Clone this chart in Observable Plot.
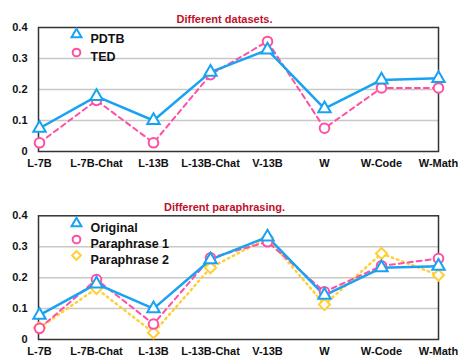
<!DOCTYPE html>
<html><head><meta charset="utf-8">
<script src="https://cdn.jsdelivr.net/npm/d3@7"></script>
<script src="https://cdn.jsdelivr.net/npm/@observablehq/plot@0.6"></script>
<style>body{margin:0;background:#fff} svg{display:block;overflow:visible}</style>
</head><body><div id="chart"></div>
<script>
const categories = ["L-7B","L-7B-Chat","L-13B","L-13B-Chat","V-13B","W","W-Code","W-Math"];
const yTicks = [0, 0.1, 0.2, 0.3, 0.4];
const pdtb     = [0.075,0.178,0.100,0.256,0.328,0.138,0.231,0.236];
const ted      = [0.028,0.165,0.028,0.248,0.355,0.075,0.205,0.205];
const original = [0.079,0.180,0.100,0.258,0.332,0.143,0.232,0.237];
const para1    = [0.036,0.194,0.050,0.264,0.316,0.154,0.238,0.262];
const para2    = [0.038,0.165,0.022,0.232,0.329,0.113,0.278,0.208];

const BLUE = "#18a2f2", PINK = "#ff4fa3", YELLOW = "#ffcf33", RED = "#c0102a";
const FONT = "Liberation Sans, Arial, Helvetica, sans-serif";

function panel({title, series, marginTop, marginBottom, height, legendDy, legendStep}) {
  const marks = [
    Plot.gridY([0.1, 0.2, 0.3], {stroke: "#c8c8c8", strokeOpacity: 1, strokeWidth: 1.5}),
    Plot.frame({stroke: "#333", strokeWidth: 1.5})
  ];
  [...series].reverse().forEach(s => {
    const rows = categories.map((c, i) => ({c, v: s.values[i]}));
    marks.push(Plot.line(rows, {x: "c", y: "v", stroke: s.color, strokeWidth: s.width, strokeDasharray: s.dash}));
  });
  [...series].reverse().forEach(s => {
    const rows = categories.map((c, i) => ({c, v: s.values[i]}));
    marks.push(Plot.dot(rows, {x: "c", y: "v", symbol: s.symbol, r: s.r, stroke: s.color, strokeWidth: 2, fill: "white"}));
  });
  series.forEach((s, i) => {
    marks.push(Plot.dot([s.name], {frameAnchor: "top-left", dx: 38, dy: legendDy + i * legendStep, symbol: s.symbol, r: s.r * 0.8, stroke: s.color, strokeWidth: 2, fill: "white"}));
    marks.push(Plot.text([s.name], {frameAnchor: "top-left", dx: 52, dy: legendDy + i * legendStep, text: d => d, textAnchor: "start", fontSize: 12.5, fontWeight: "bold", fill: "#111"}));
  });
  marks.push(Plot.text([title], {frameAnchor: "top", dx: -14, dy: -12.5, text: d => d, fill: RED, fontSize: 11, fontWeight: "bold"}));
  marks.push(Plot.axisX({tickSize: 0, tickPadding: 8, fontSize: 11, fontWeight: "bold", label: null}));
  marks.push(Plot.axisY({ticks: yTicks, tickSize: 0, tickPadding: 11, fontSize: 11, fontWeight: "bold", label: null, tickFormat: d => d === 0 ? "0" : d.toFixed(1)}));
  return Plot.plot({
    width: 458, height, marginTop, marginBottom, marginLeft: 38, marginRight: 20,
    style: {fontFamily: FONT, fontWeight: "bold", background: "white", color: "#111", overflow: "visible"},
    x: {type: "point", domain: categories, padding: 0},
    y: {domain: [0, 0.4]},
    marks
  });
}

const top1 = panel({
  title: "Different datasets.",
  height: 178, marginTop: 27, marginBottom: 27, legendDy: 7, legendStep: 18,
  series: [
    {name: "PDTB", values: pdtb, color: BLUE, symbol: "triangle", r: 4.6, width: 2.5},
    {name: "TED", values: ted, color: PINK, symbol: "circle", r: 4.8, width: 2, dash: "5,4"}
  ]
});
const bot = panel({
  title: "Different paraphrasing.",
  height: 178, marginTop: 37.3, marginBottom: 17, legendDy: 7.7, legendStep: 16,
  series: [
    {name: "Original", values: original, color: BLUE, symbol: "triangle", r: 4.6, width: 2.5},
    {name: "Paraphrase 1", values: para1, color: PINK, symbol: "circle", r: 4.8, width: 2, dash: "5,4"},
    {name: "Paraphrase 2", values: para2, color: YELLOW, symbol: "diamond2", r: 5, width: 2.5, dash: "1.5,4"}
  ]
});
document.getElementById("chart").append(top1, bot);
</script>
</body></html>
